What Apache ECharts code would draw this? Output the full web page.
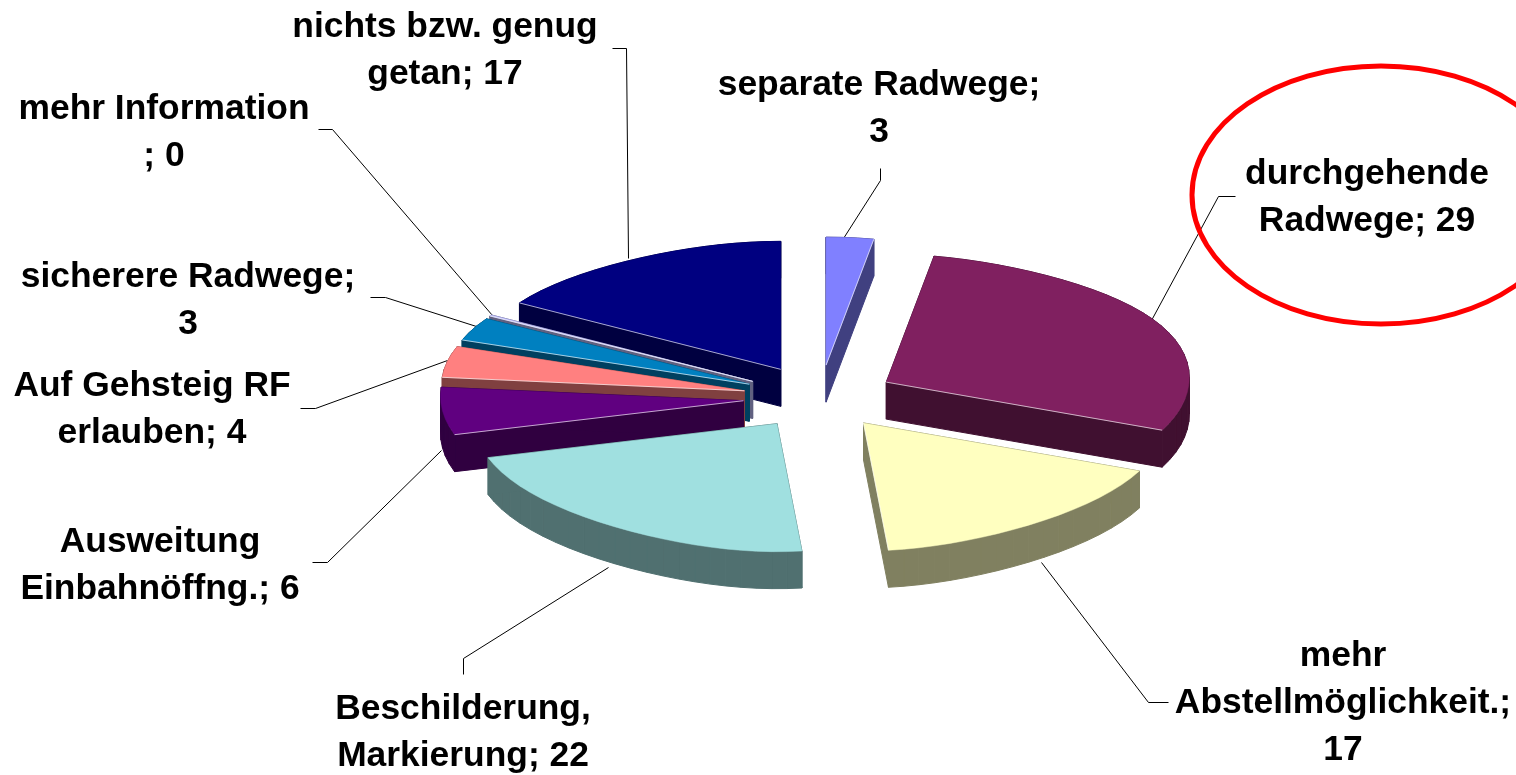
<!DOCTYPE html>
<html>
<head>
<meta charset="utf-8">
<style>
  html, body { margin: 0; padding: 0; background: #fff; overflow: hidden; }
  #chart-container { width: 1516px; height: 775px; }
</style>
<script src="https://cdn.jsdelivr.net/npm/echarts@6/dist/echarts.min.js"></script>
</head>
<body>
<div id="chart-container"></div>
<script>
// clockwise from 12 o'clock; "mehr Information" is labelled 0 but still has a hairline slice
var categories = ['separate Radwege', 'durchgehende Radwege', 'mehr Abstellmöglichkeit.', 'Beschilderung, Markierung', 'Ausweitung Einbahnöffng.', 'Auf Gehsteig RF erlauben', 'sicherere Radwege', 'mehr Information', 'nichts bzw. genug getan'];
var values = [3, 29, 17, 22, 6, 4, 3, 0.15, 17];
var labelFormats = ['separate Radwege;\n{v}', 'durchgehende\nRadwege; {v}', 'mehr\nAbstellmöglichkeit.;\n{v}', 'Beschilderung,\nMarkierung; {v}', 'Ausweitung\nEinbahnöffng.; {v}', 'Auf Gehsteig RF\nerlauben; {v}', 'sicherere Radwege;\n{v}', 'mehr Information\n; {v}', 'nichts bzw. genug\ngetan; {v}'];
var topColors = ['#8080ff', '#802060', '#ffffc0', '#a0e0e0', '#600080', '#ff8080', '#0080c0', '#c0c0ff', '#000080'];
var sideColors = ['#404080', '#401030', '#808060', '#507070', '#300040', '#804040', '#004060', '#606080', '#000040'];
// back slices first so the front ones paint over them
var drawOrder = [8, 7, 6, 5, 4, 0, 1, 2, 3];

var labelPos = [[879, 109], [1367, 198], [1343, 703], [463, 733], [160, 566], [152, 410], [188, 301], [164, 133], [445, 51]];
var leaders = [
  [[880, 168], [880, 180], [843, 238]],
  [[1235, 196], [1218, 196], [1151, 320]],
  [[1168, 702], [1148, 702], [1041, 562]],
  [[463, 674], [463, 658], [608, 567]],
  [[312, 562], [327, 562], [441, 450]],
  [[300, 408], [315, 408], [447, 360]],
  [[370, 297], [385, 297], [476, 326]],
  [[318, 129], [332, 129], [492, 315]],
  [[612, 48], [626, 48], [628, 258]]
];

var cx = 819, cy = 397;
var rx = 303, ry = 128, depth = 37;
var explodeX = 76, explodeY = 32;

var total = values.reduce(function (a, b) { return a + b; }, 0);
var startAngles = [];
values.reduce(function (sum, v, i) { startAngles[i] = sum / total * Math.PI * 2; return sum + v; }, 0);

// the original is a tilted 3d pie: narrower at top and bottom, sides lifted a little
function rimPoint(apex, a) {
  var c = Math.cos(a), s = Math.sin(a);
  var squeeze = 1 - 0.16 * c * c * c * c;
  return [apex[0] + rx * squeeze * s, apex[1] - ry * c - 4.5 * s * s];
}

// true when the cut face under apex->p can be seen, i.e. the rest of the top lies above that edge
function faceVisible(apex, p, other) {
  if (Math.abs(p[0] - apex[0]) < 0.5) return false;
  var yOnEdge = apex[1] + (other[0] - apex[0]) * (p[1] - apex[1]) / (p[0] - apex[0]);
  return other[1] < yOnEdge;
}

function renderSlice(params, api) {
  var idx = api.value(0);
  var a0 = startAngles[idx];
  var a1 = a0 + api.value(1) / total * Math.PI * 2;
  var mid = (a0 + a1) / 2;
  var apex = [cx + explodeX * Math.sin(mid), cy - explodeY * Math.cos(mid)];

  var rim = [];
  var steps = Math.max(1, Math.round((a1 - a0) / 0.06));
  for (var s = 0; s <= steps; s++) {
    rim.push(rimPoint(apex, a0 + (a1 - a0) * s / steps));
  }
  var outline = [apex].concat(rim);

  var children = [];
  var side = api.style({ fill: sideColors[idx], stroke: sideColors[idx], lineWidth: 1 });
  for (var i = 0; i < outline.length; i++) {
    var p = outline[i];
    var q = outline[(i + 1) % outline.length];
    children.push({
      type: 'polygon',
      shape: { points: [p, q, [q[0], q[1] + depth], [p[0], p[1] + depth]] },
      style: side
    });
  }
  children.push({
    type: 'polygon',
    shape: { points: outline },
    style: { fill: topColors[idx], stroke: topColors[idx], lineWidth: 0.5 }
  });

  // pale highlight where the top meets a visible cut face
  var first = rim[0], last = rim[rim.length - 1];
  [[first, last], [last, first]].forEach(function (pair) {
    if (faceVisible(apex, pair[0], pair[1])) {
      children.push({
        type: 'polyline',
        shape: { points: [apex, pair[0]] },
        style: { stroke: 'rgba(255,255,255,0.65)', lineWidth: 1, fill: null }
      });
    }
  });
  return { type: 'group', children: children };
}

var graphics = [];
leaders.forEach(function (pts) {
  graphics.push({
    type: 'polyline',
    shape: { points: pts.map(function (p) { return [p[0] + 0.5, p[1] + 0.5]; }) },
    style: { stroke: '#000', lineWidth: 1, fill: null },
    z: 1
  });
});
categories.forEach(function (name, i) {
  graphics.push({
    type: 'text',
    x: labelPos[i][0],
    y: labelPos[i][1],
    style: {
      text: labelFormats[i].replace('{v}', Math.round(values[i])),
      font: 'bold 35.4px "Liberation Sans", Arial, sans-serif',
      lineHeight: 47,
      fill: '#000',
      align: 'center',
      verticalAlign: 'middle'
    },
    z: 5
  });
});
graphics.push({
  type: 'ellipse',
  shape: { cx: 1381, cy: 195, rx: 189, ry: 129 },
  style: { fill: null, stroke: '#ff0000', lineWidth: 5 },
  z: 6
});

var dom = document.getElementById('chart-container');
var myChart = echarts.init(dom);
var option = {
  animation: false,
  backgroundColor: '#fff',
  graphic: graphics,
  series: [
    {
      type: 'custom',
      coordinateSystem: 'none',
      renderItem: renderSlice,
      z: 3,
      data: drawOrder.map(function (i) {
        return { name: categories[i], value: [i, values[i]] };
      })
    }
  ]
};
myChart.setOption(option);
</script>
</body>
</html>
